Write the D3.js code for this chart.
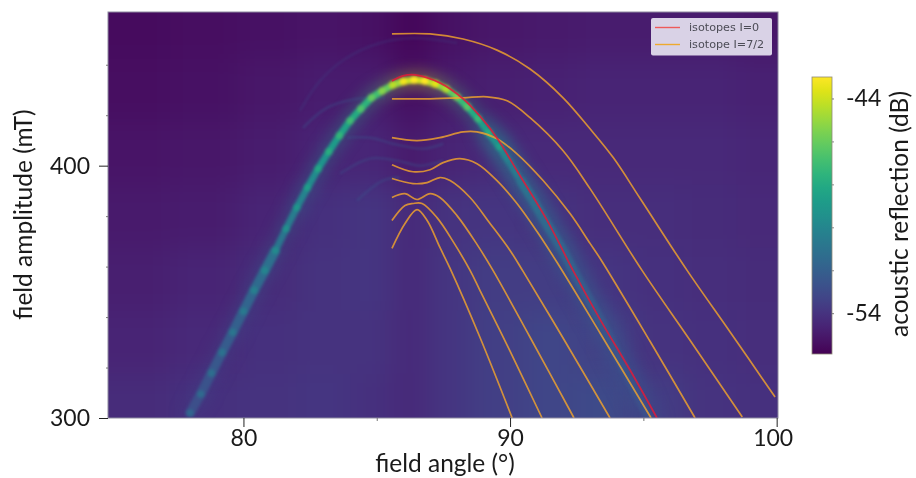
<!DOCTYPE html>
<html>
<head>
<meta charset="utf-8">
<script src="https://d3js.org/d3.v7.min.js"></script>
<style>
  html, body { margin: 0; padding: 0; background: #fff; overflow: hidden; }
  text { font-family: Lato, sans-serif; fill: #1a1a1a; }
</style>
</head>
<body>
<svg id="chart" width="916" height="478"></svg>
<script>
// background level, rows top to bottom, columns left to right
const bgAngles = [76, 78.5, 81, 83, 85, 86.3, 87.5, 89.5, 91.5, 93.5, 95.5, 97.5, 99.5];
const bgAmps = [455, 430, 405, 380, 355, 330, 305];
const bgDb = [
  [-55.5, -55.4, -55.3, -55.2, -55.3, -55.7, -55.3, -55.1, -55.0, -54.9, -54.9, -54.9, -55.1],
  [-55.4, -55.3, -55.1, -54.9, -54.9, -55.4, -55.0, -54.8, -54.7, -54.6, -54.6, -54.6, -54.7],
  [-55.2, -55.1, -54.9, -54.6, -54.5, -55.0, -54.6, -54.4, -54.4, -54.4, -54.4, -54.4, -54.5],
  [-55.0, -54.9, -54.6, -54.1, -53.9, -54.4, -54.0, -53.9, -54.0, -54.2, -54.2, -54.3, -54.4],
  [-54.8, -54.6, -54.3, -54.0, -53.9, -54.4, -53.9, -53.6, -53.6, -53.9, -54.1, -54.2, -54.3],
  [-54.6, -54.4, -54.1, -54.0, -54.0, -54.4, -53.9, -53.5, -53.2, -53.4, -54.0, -54.1, -54.2],
  [-54.3, -54.1, -54.0, -53.9, -54.1, -54.4, -53.9, -53.5, -53.2, -53.0, -53.6, -54.0, -54.1]
];

// main resonance, one sample per measured angle
const ridgeAngles = [78.0, 78.4, 78.8, 79.2, 79.6, 80.0, 80.4, 80.8, 81.2, 81.6, 82.0, 82.4, 82.8, 83.2, 83.6,
  84.0, 84.4, 84.8, 85.2, 85.6, 86.0, 86.4, 86.8, 87.2, 87.6, 88.0, 88.4, 88.8, 89.2, 89.6,
  90.0, 90.4, 90.8, 91.2, 91.6, 92.0, 92.4, 92.8, 93.2, 93.6, 94.0, 94.4, 94.8, 95.2];
const ridgeAmps = [302, 309.5, 317.8, 326, 334, 342.3, 350.6, 358.5, 366.4, 375, 383.4, 391.3, 398.8, 405.5, 411.9,
  417.8, 422.5, 426.9, 429.6, 432, 433.4, 434, 433.6, 432.4, 430.4, 427.3, 423.3, 418.6, 413, 407.5,
  400.8, 394, 387.4, 380, 373, 366, 357.7, 350, 342.3, 334.4, 325.7, 317, 308.7, 300];
const ridgeDb = [-52.9, -52.7, -52.5, -52.3, -52.1, -51.9, -51.6, -51.3, -51.0, -50.7, -50.3, -49.9, -49.4, -49.0, -48.6,
  -48.2, -47.8, -47.3, -46.6, -45.6, -44.5, -44.0, -44.1, -44.8, -45.7, -46.8, -47.6, -48.4, -49.0, -49.8,
  -50.4, -50.9, -51.2, -51.4, -51.6, -51.8, -52.0, -52.2, -52.3, -52.4, -52.5, -52.6, -52.7, -52.8];

// faint side branches, [angle, amplitude]
const faintBranches = [
  [[82.12, 421.7], [82.87, 433.6], [83.81, 442.3], [85.12, 448.6], [86.36, 450.6], [88.01, 448.6]],
  [[82.23, 415], [83.13, 422.9], [84.26, 426.5], [85.31, 426.9]],
  [[83.88, 411.1], [84.75, 411.1], [85.61, 408.7], [86.73, 406.7], [87.49, 408.7]],
  [[83.62, 396.8], [84.75, 402.8], [85.76, 402], [86.62, 400], [87.49, 402]],
  [[84.26, 386.2], [85.23, 394.1], [85.87, 395.3]]
];

// simulated transitions, isotopes I=0
const redLine = [[85.57, 433.6], [85.98, 435.6], [86.44, 436], [87.37, 432.8], [88.24, 426.5], [88.87, 419.6],
  [89.51, 411], [90.26, 398], [91.39, 378.3], [92.36, 358.5], [93.38, 339], [94.5, 319], [95.51, 300]];

// simulated transitions, isotope I=7/2
const orangeLines = [
  [[85.57, 367.2], [86.06, 377.1], [86.51, 382.6], [86.89, 378.3], [87.37, 367.6], [87.75, 359.3], [88.87, 332], [90.08, 300]],
  [[85.57, 378.3], [86.06, 384.2], [86.36, 385], [86.70, 385], [87.26, 379.4], [87.86, 370], [88.50, 358.5], [88.87, 350.6], [90.0, 326.5], [91.2, 300]],
  [[85.57, 387.4], [86.06, 388.9], [86.51, 386.6], [87.0, 388.9], [87.37, 387.4], [88.01, 380.2], [88.76, 368.8], [89.36, 358.5], [90.75, 332], [92.40, 300]],
  [[85.57, 394.9], [86.36, 392.9], [86.89, 393.3], [87.37, 395.3], [87.75, 394.1], [88.50, 387.4], [89.25, 377.1], [90.0, 366.4], [90.49, 358.1], [92.06, 330.4], [93.75, 300]],
  [[85.57, 400.4], [86.36, 397.6], [87.0, 398.4], [87.49, 401.2], [88.12, 402.8], [88.76, 400.8], [89.51, 394.1], [90.26, 385], [91.01, 373.9], [91.76, 361.7], [93.38, 333.6], [95.29, 300]],
  [[85.57, 411.1], [86.51, 409.9], [87.37, 411.1], [88.24, 413.4], [88.76, 413.4], [89.51, 410.7], [90.26, 404.7], [91.24, 394.1], [92.25, 381], [93.0, 369.2], [93.38, 363.2], [95.25, 330.4], [96.94, 300]],
  [[85.57, 426.5], [87.0, 426.5], [88.24, 426.9], [89.14, 427.3], [89.89, 425.7], [90.75, 419], [91.99, 405.9], [93.0, 390.9], [94.95, 358.5], [96.75, 330.8], [98.71, 300.4]],
  [[85.57, 452.2], [87.0, 452.2], [88.24, 450.2], [89.51, 445.8], [90.75, 438.3], [91.99, 426.9], [93.0, 414.6], [93.87, 403.2], [94.88, 387], [96.64, 358.5], [98.26, 334], [99.94, 308.3]]
];

const legendLabels = ['isotopes I=0', 'isotope I=7/2'];
const xMajorTicks = [80, 90, 100];
const xMinorTicks = [85, 95];
const yMajorTicks = [300, 400];
const yMinorTicks = [320, 340, 360, 380, 420, 440];
const cbMajorTicks = [-44, -54];
const cbMinorTicks = [-46, -48, -50, -52];

const pLeft = 108, pRight = 778, pTop = 12, pBottom = 418;
const cbLeft = 812, cbRight = 832, cbTop = 77, cbBottom = 354;

const xScale = d3.scaleLinear().domain([74.92, 100.05]).range([pLeft, pRight]);
const yScale = d3.scaleLinear().domain([300, 460.9]).range([pBottom, pTop]);
const cbScale = d3.scaleLinear().domain([-55.9, -43]).range([cbBottom, cbTop]);
const colorScale = d3.scaleSequential(d3.interpolateViridis).domain([-55.9, -43]);

const chart = d3.select('#chart');
const defs = chart.append('defs');

defs.append('clipPath').attr('id', 'plotClip')
  .append('rect')
  .attr('x', pLeft).attr('y', pTop)
  .attr('width', pRight - pLeft).attr('height', pBottom - pTop);

// sRGB here, the default linearRGB bands badly on these dark colours
function addBlur(id, amount) {
  defs.append('filter').attr('id', id)
    .attr('filterUnits', 'userSpaceOnUse')
    .attr('color-interpolation-filters', 'sRGB')
    .attr('x', 0).attr('y', -100).attr('width', 916).attr('height', 678)
    .append('feGaussianBlur').attr('stdDeviation', amount);
}
addBlur('blurBg', 14);
addBlur('blurGlow', 7);
addBlur('blurRidge', 1.7);
addBlur('blurFaint', 1.3);
addBlur('blurLine', 0.45);
addBlur('blurText', 0.35);

const plot = chart.append('g').attr('clip-path', 'url(#plotClip)');

// background cells, the outer ones run past the frame so the blur stays even at the edge
let colEdges = d3.pairs(bgAngles).map((p) => xScale((p[0] + p[1]) / 2));
colEdges = [pLeft - 60, ...colEdges, pRight + 60];
let rowEdges = d3.pairs(bgAmps).map((p) => yScale((p[0] + p[1]) / 2));
rowEdges = [pTop - 60, ...rowEdges, pBottom + 60];

let bgCells = [];
bgDb.forEach((row, r) => {
  row.forEach((db, c) => bgCells.push({r: r, c: c, db: db}));
});

plot.append('g').attr('filter', 'url(#blurBg)')
  .selectAll('rect')
  .data(bgCells)
  .enter()
  .append('rect')
  .attr('x', (d) => colEdges[d.c])
  .attr('y', (d) => rowEdges[d.r])
  .attr('width', (d) => colEdges[d.c + 1] - colEdges[d.c] + 1)
  .attr('height', (d) => rowEdges[d.r + 1] - rowEdges[d.r] + 1)
  .attr('fill', (d) => colorScale(d.db));

const ridge = ridgeAngles.map((a, i) => ({angle: a, amp: ridgeAmps[i], db: ridgeDb[i]}));
const ridgeSegments = d3.pairs(ridge);

function segmentLine(sel) {
  sel.attr('x1', (d) => xScale(d[0].angle))
    .attr('y1', (d) => yScale(d[0].amp))
    .attr('x2', (d) => xScale(d[1].angle))
    .attr('y2', (d) => yScale(d[1].amp))
    .attr('stroke', (d) => colorScale((d[0].db + d[1].db) / 2))
    .attr('stroke-linecap', 'round');
}

// wide soft glow under the resonance, broader past the peak
plot.append('g').attr('filter', 'url(#blurGlow)')
  .selectAll('line')
  .data(ridgeSegments)
  .enter()
  .append('line')
  .call(segmentLine)
  .attr('stroke-width', (d) => d[0].angle > 89 ? 26 : 20)
  .attr('opacity', (d) => d[0].angle > 89 ? 0.34 : 0.14);

const line = d3.line()
  .x((d) => xScale(d[0]))
  .y((d) => yScale(d[1]))
  .curve(d3.curveCatmullRom);

plot.append('g').attr('filter', 'url(#blurFaint)')
  .selectAll('path')
  .data(faintBranches)
  .enter()
  .append('path')
  .attr('d', line)
  .attr('fill', 'none')
  .attr('stroke', colorScale(-52.6))
  .attr('stroke-width', 2.5)
  .attr('opacity', (d, i) => i == 0 ? 0.22 : 0.38);

// the resonance itself, a band with a brighter bead at each measured angle
const ridgeGroup = plot.append('g').attr('filter', 'url(#blurRidge)');

ridgeGroup.selectAll('line')
  .data(ridgeSegments)
  .enter()
  .append('line')
  .call(segmentLine)
  .attr('stroke-width', (d) => (d[0].angle > 90 || d[0].angle < 81) ? 9.5 : 7);

ridgeGroup.selectAll('circle')
  .data(ridge.filter((d) => d.angle < 90))
  .enter()
  .append('circle')
  .attr('cx', (d) => xScale(d.angle))
  .attr('cy', (d) => yScale(d.amp))
  .attr('r', 3.8)
  .attr('fill', (d) => colorScale(d.db + 1.2));

const curves = plot.append('g').attr('filter', 'url(#blurLine)');

curves.selectAll('path.orange')
  .data(orangeLines)
  .enter()
  .append('path')
  .attr('class', 'orange')
  .attr('d', line)
  .attr('fill', 'none')
  .attr('stroke', '#f2a32c')
  .attr('stroke-width', 1.7)
  .attr('opacity', 0.82);

curves.append('path')
  .attr('d', line(redLine))
  .attr('fill', 'none')
  .attr('stroke', '#e01a3a')
  .attr('stroke-width', 1.8)
  .attr('opacity', 0.85);

// frame
chart.append('rect')
  .attr('x', pLeft).attr('y', pTop)
  .attr('width', pRight - pLeft).attr('height', pBottom - pTop)
  .attr('fill', 'none')
  .attr('stroke', '#8d8aa0')
  .attr('stroke-width', 1);

// legend
const legend = chart.append('g').attr('filter', 'url(#blurLine)');
legend.append('rect')
  .attr('x', 651).attr('y', 18)
  .attr('width', 121).attr('height', 37.5)
  .attr('rx', 2)
  .attr('fill', '#d9d2e6');

const legendY = d3.scalePoint().domain(legendLabels).range([27.5, 44.5]);

legend.selectAll('line')
  .data(legendLabels)
  .enter()
  .append('line')
  .attr('x1', 655).attr('x2', 680)
  .attr('y1', (d) => legendY(d))
  .attr('y2', (d) => legendY(d))
  .attr('stroke', (d, i) => i == 0 ? '#ee5a5a' : '#eea92e')
  .attr('stroke-width', 1.4);

legend.selectAll('text')
  .data(legendLabels)
  .enter()
  .append('text')
  .attr('x', 689)
  .attr('y', (d) => legendY(d) + 3.8)
  .attr('font-size', 11.2)
  .style('font-family', '"DejaVu Sans", sans-serif')
  .style('fill', '#4c4c56')
  .text((d) => d);

// AXES
const ink = chart.append('g').attr('filter', 'url(#blurText)');

// plain hyphen on the colorbar labels, as in the original
const plainLabel = (d) => String(d);

const xAxis = d3.axisBottom(xScale).tickValues(xMajorTicks).tickSize(9).tickPadding(3).tickFormat(plainLabel);
const xMinor = d3.axisBottom(xScale).tickValues(xMinorTicks).tickSize(3).tickFormat('');
const yAxis = d3.axisLeft(yScale).tickValues(yMajorTicks).tickSize(9).tickPadding(9).tickFormat(plainLabel);
const yMinor = d3.axisLeft(yScale).tickValues(yMinorTicks).tickSize(2).tickFormat('');
const cbAxis = d3.axisRight(cbScale).tickValues(cbMajorTicks).tickSize(2).tickPadding(12).tickFormat(plainLabel);
const cbMinor = d3.axisRight(cbScale).tickValues(cbMinorTicks).tickSize(2).tickFormat('');

function drawAxis(axis, x, y, tickColor) {
  let g = ink.append('g')
    .attr('transform', `translate(${x}, ${y})`)
    .call(axis);
  g.select('.domain').remove();
  g.selectAll('line').attr('stroke', tickColor);
  g.selectAll('text')
    .attr('font-size', 23)
    .style('font-family', 'Lato, sans-serif');
  return g;
}

drawAxis(xAxis, 0, pBottom, '#222')
  .selectAll('text').filter((d) => d == 100).attr('dx', -4);
drawAxis(xMinor, 0, pBottom, '#777');
drawAxis(yAxis, pLeft, 0, '#222');
drawAxis(yMinor, pLeft, 0, '#777');

// colorbar
const cbStops = d3.range(0, 1.001, 0.05);
defs.append('linearGradient').attr('id', 'viridisBar')
  .attr('x1', 0).attr('y1', 1).attr('x2', 0).attr('y2', 0)
  .selectAll('stop')
  .data(cbStops)
  .enter()
  .append('stop')
  .attr('offset', (d) => d)
  .attr('stop-color', (d) => d3.interpolateViridis(d));

ink.append('rect')
  .attr('x', cbLeft).attr('y', cbTop)
  .attr('width', cbRight - cbLeft).attr('height', cbBottom - cbTop)
  .attr('fill', 'url(#viridisBar)')
  .attr('stroke', '#8f8a78')
  .attr('stroke-width', 0.8);

drawAxis(cbAxis, cbRight, 0, '#777');
drawAxis(cbMinor, cbRight, 0, '#888');

// labels
ink.append('text')
  .attr('x', 445).attr('y', 472)
  .attr('text-anchor', 'middle')
  .attr('font-size', 24.5)
  .text('field angle (°)');

ink.append('text')
  .attr('transform', 'translate(32, 214.5) rotate(-90)')
  .attr('text-anchor', 'middle')
  .attr('font-size', 24.5)
  .text('field amplitude (mT)');

ink.append('text')
  .attr('transform', 'translate(908, 214) rotate(-90)')
  .attr('text-anchor', 'middle')
  .attr('font-size', 24.5)
  .text('acoustic reflection (dB)');
</script>
</body>
</html>
